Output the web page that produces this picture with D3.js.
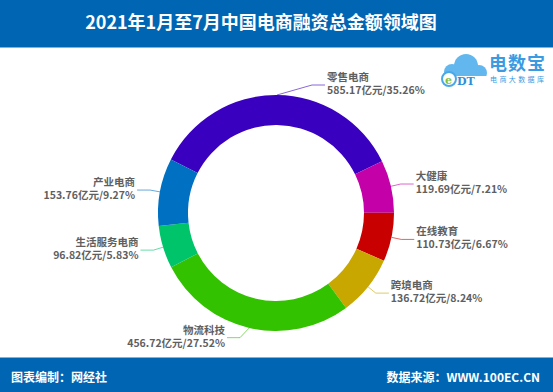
<!DOCTYPE html>
<html>
<head>
<meta charset="utf-8">
<script src="https://cdn.jsdelivr.net/npm/d3@7"></script>
<style>
  html, body { margin: 0; padding: 0; background: #fff; }
  svg { display: block; font-family: "Noto Sans CJK SC", "Noto Sans", sans-serif; }
</style>
</head>
<body>
<div id="chart"></div>
<script>
// 数据
const categories = ['零售电商', '大健康', '在线教育', '跨境电商', '物流科技', '生活服务电商', '产业电商'];
const amounts = [585.17, 119.69, 110.73, 136.72, 456.72, 96.82, 153.76];
const shares = [35.26, 7.21, 6.67, 8.24, 27.52, 5.83, 9.27];
const sliceColors = ['#3A00BF', '#C400A8', '#C80000', '#C8A700', '#33C200', '#00C46A', '#0070C2'];

const title = '2021年1月至7月中国电商融资总金额领域图';
const footLeft = '图表编制：网经社';
const footRight = '数据来源：WWW.100EC.CN';

const width = 553;
const height = 392;
const headerColor = '#0066B4';

const svg = d3.select('#chart').append('svg')
  .attr('width', width)
  .attr('height', height);

// шапка
svg.append('rect').attr('x', 0).attr('y', 0).attr('width', width).attr('height', 47).attr('fill', headerColor);
svg.append('rect').attr('x', 0).attr('y', 47).attr('width', width).attr('height', 1).attr('fill', '#7FB3DE');
svg.append('text')
  .attr('x', 261).attr('y', 24)
  .attr('text-anchor', 'middle')
  .attr('dominant-baseline', 'middle')
  .attr('fill', '#fff')
  .attr('font-size', 18)
  .attr('font-weight', 'bold')
  .text(title);

// подвал
svg.append('rect').attr('x', 0).attr('y', 357).attr('width', width).attr('height', 1).attr('fill', '#7FB3DE');
svg.append('rect').attr('x', 0).attr('y', 358).attr('width', width).attr('height', height - 358).attr('fill', headerColor);
svg.append('text')
  .attr('x', 11).attr('y', 379)
  .attr('dominant-baseline', 'middle')
  .attr('fill', '#fff').attr('font-size', 12).attr('font-weight', 'bold')
  .text(footLeft);
svg.append('text')
  .attr('x', 540).attr('y', 379)
  .attr('text-anchor', 'end')
  .attr('dominant-baseline', 'middle')
  .attr('fill', '#fff').attr('font-size', 12).attr('font-weight', 'bold')
  .text(footRight);

// логотип
const logo = svg.append('g');
const cloud = logo.append('g').attr('fill', '#62B8EE');
cloud.append('circle').attr('cx', 466).attr('cy', 66).attr('r', 12);
cloud.append('circle').attr('cx', 452).attr('cy', 72).attr('r', 8);
cloud.append('circle').attr('cx', 479).attr('cy', 73).attr('r', 8);
cloud.append('rect').attr('x', 450).attr('y', 70).attr('width', 32).attr('height', 11).attr('rx', 5);
logo.append('rect').attr('x', 451).attr('y', 76).attr('width', 36).attr('height', 10).attr('fill', '#fff');
logo.append('circle').attr('cx', 449).attr('cy', 79).attr('r', 7)
  .attr('fill', '#fff').attr('stroke', '#4AA8E8').attr('stroke-width', 2);
logo.append('text').attr('x', 445).attr('y', 84)
  .attr('font-family', 'DejaVu Serif').attr('font-size', 11).attr('font-weight', 'bold')
  .attr('fill', '#7CC242').text('e');
logo.append('text').attr('x', 457).attr('y', 85)
  .attr('font-family', 'DejaVu Serif').attr('font-size', 11).attr('font-weight', 'bold')
  .attr('fill', '#2F8FD8').text('DT');
logo.append('text').attr('x', 489).attr('y', 70)
  .attr('font-size', 18).attr('font-weight', 'bold').attr('fill', '#3A9BE2')
  .attr('letter-spacing', 1).text('电数宝');
logo.append('text').attr('x', 490).attr('y', 82)
  .attr('font-size', 7).attr('fill', '#3A9BE2')
  .attr('letter-spacing', 2.4).text('电商大数据库');

// кольцо
const cx = 276, cy = 213;
const outerR = 118, innerR = 88;
const len1 = 10, len2 = 13;
const startAngle = -63 * Math.PI / 180;

const data = categories.map((name, i) => ({
  name, amount: amounts[i], share: shares[i], color: sliceColors[i]
}));

const pie = d3.pie()
  .value(d => d.amount)
  .sort(null)
  .startAngle(startAngle)
  .endAngle(startAngle + 2 * Math.PI);

const arc = d3.arc().innerRadius(innerR).outerRadius(outerR);
const arcs = pie(data);

const g = svg.append('g').attr('transform', `translate(${cx},${cy})`);

g.selectAll('path.slice')
  .data(arcs)
  .join('path')
  .attr('class', 'slice')
  .attr('d', arc)
  .attr('fill', d => d.data.color);

// подписи с выносками
const polar = (r, a) => [r * Math.sin(a), -r * Math.cos(a)];

const labels = arcs.map(d => {
  const mid = (d.startAngle + d.endAngle) / 2;
  const right = Math.sin(mid) >= 0;
  const p0 = polar(outerR, mid);
  const p1 = polar(outerR + len1, mid);
  // не даём надписи заползать на верх кольца
  if (Math.abs(p1[0]) < 36) p1[0] = right ? 36 : -36;
  const p2 = [p1[0] + (right ? len2 : -len2), p1[1]];
  return { d, right, pts: [p0, p1, p2] };
});

g.selectAll('polyline.lead')
  .data(labels)
  .join('polyline')
  .attr('class', 'lead')
  .attr('points', l => l.pts.map(p => p.join(',')).join(' '))
  .attr('fill', 'none')
  .attr('stroke', l => l.d.data.color)
  .attr('stroke-opacity', 0.6)
  .attr('stroke-width', 1);

const txt = g.selectAll('text.lbl')
  .data(labels)
  .join('text')
  .attr('class', 'lbl')
  .attr('text-anchor', l => l.right ? 'start' : 'end')
  .attr('font-size', 10.5)
  .attr('font-weight', 'bold')
  .attr('fill', '#5F5F5F');

txt.append('tspan')
  .attr('x', l => l.pts[2][0] + (l.right ? 2 : -2))
  .attr('y', l => l.pts[2][1] - 7)
  .attr('dominant-baseline', 'middle')
  .text(l => l.d.data.name);

txt.append('tspan')
  .attr('x', l => l.pts[2][0] + (l.right ? 2 : -2))
  .attr('y', l => l.pts[2][1] + 6)
  .attr('dominant-baseline', 'middle')
  .text(l => `${l.d.data.amount.toFixed(2)}亿元/${l.d.data.share.toFixed(2)}%`);
</script>
</body>
</html>
